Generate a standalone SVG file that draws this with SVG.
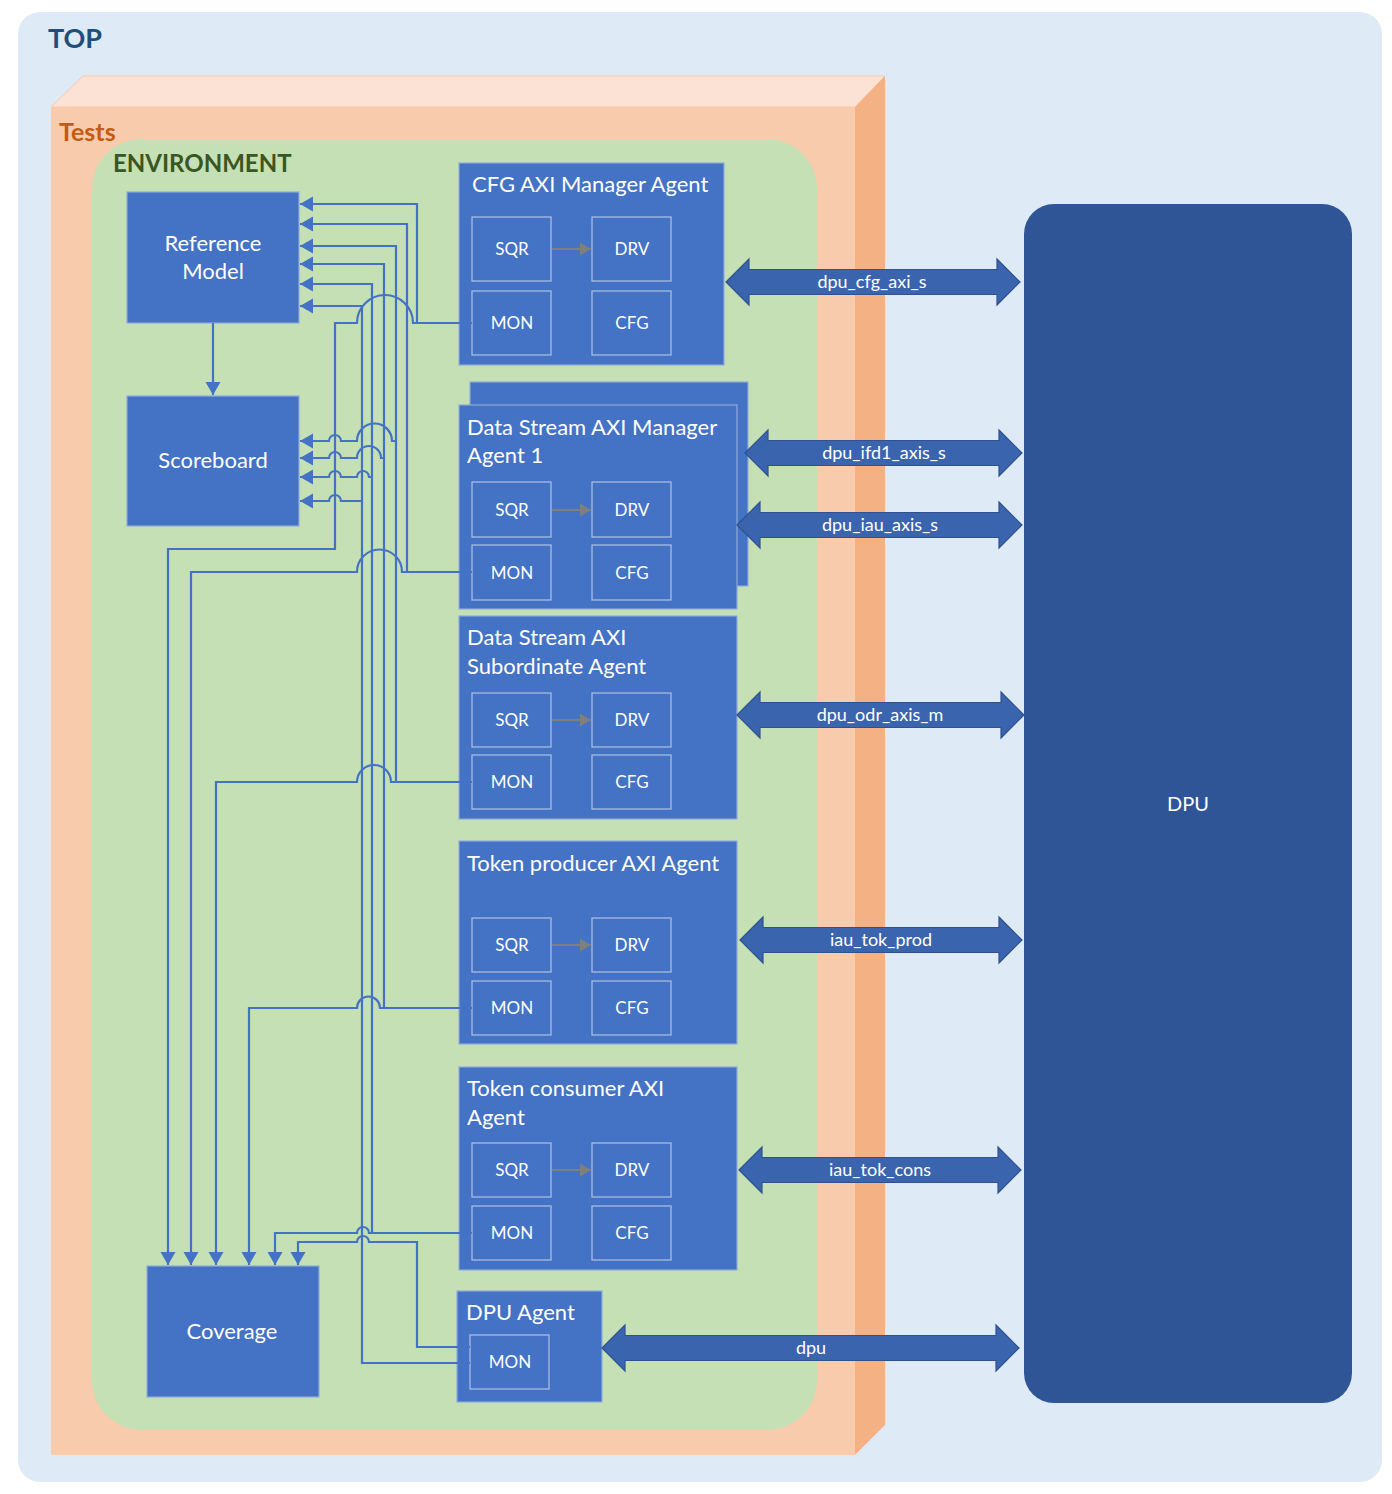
<svg xmlns="http://www.w3.org/2000/svg" width="1392" height="1494" viewBox="0 0 1392 1494">
  <defs>
    <style>
      .lbl { font-family: Lato, "Open Sans", "Liberation Sans", sans-serif; fill: #ffffff; }
      .node { fill: #4472C4; stroke: #8FAADC; stroke-width: 1.2; }
      .sub { fill: #4472C4; stroke: #A9BCE2; stroke-width: 1.3; }
      .subtxt { font-size: 17px; text-anchor: middle; }
      .title { font-size: 22px; }
      .big { font-size: 22px; text-anchor: middle; }
      .bus { fill: #3B64AE; stroke: #2F528F; stroke-width: 1.2; }
      .bustxt { font-size: 18px; text-anchor: middle; }
      .wire { fill: none; stroke: #4472C4; stroke-width: 2.2; }
      .arrowed { marker-end: url(#tip); }
      .inner { fill: none; stroke: #7F7F7F; stroke-width: 2; marker-end: url(#grayTip); }
      .head { font-family: Lato, "Open Sans", "Liberation Sans", sans-serif; font-weight: bold; }
    </style>
    <marker id="tip" markerUnits="userSpaceOnUse" markerWidth="14" markerHeight="16" refX="13" refY="7.5" orient="auto">
      <path d="M0,0 L13,7.5 L0,15 z" fill="#4472C4"/>
    </marker>
    <marker id="grayTip" markerUnits="userSpaceOnUse" markerWidth="12" markerHeight="14" refX="11" refY="6.5" orient="auto">
      <path d="M0,0 L11,6.5 L0,13 z" fill="#7F7F7F"/>
    </marker>
  </defs>

  <!-- outer TOP container -->
  <g id="top">
    <rect x="18" y="12" width="1364" height="1470" rx="22" fill="#DEEAF6"/>
    <text class="head" x="48" y="48" font-size="27" fill="#1F4E79">TOP</text>
  </g>

  <!-- Tests block drawn as a 3D slab -->
  <g id="tests">
    <polygon points="51,107 83,76 885,76 855,107" fill="#FBE2D4" stroke="#F8CBAD" stroke-width="1"/>
    <polygon points="855,107 885,76 885,1425 855,1455" fill="#F4B183"/>
    <rect x="51" y="107" width="804" height="1348" fill="#F8CBAD"/>
    <text class="head" x="59" y="141" font-size="25" fill="#C55A11">Tests</text>
  </g>

  <!-- environment area -->
  <g id="environment">
    <rect x="92" y="139" width="725" height="1291" rx="50" fill="#C5E0B4"/>
    <text class="head" x="113" y="172" font-size="24" fill="#385723">ENVIRONMENT</text>
  </g>

  <g id="reference_model">
    <rect class="node" x="127" y="192" width="172" height="131"/>
    <text class="lbl big" x="213" y="251">Reference</text>
    <text class="lbl big" x="213" y="279">Model</text>
  </g>

  <g id="scoreboard">
    <rect class="node" x="127" y="396" width="172" height="130"/>
    <text class="lbl big" x="213" y="468">Scoreboard</text>
  </g>

  <g id="coverage">
    <rect class="node" x="147" y="1266" width="172" height="131"/>
    <text class="lbl big" x="232" y="1339">Coverage</text>
  </g>

  <g id="dpu">
    <rect x="1024" y="204" width="328" height="1199" rx="30" fill="#2F5597"/>
    <text class="lbl" x="1188" y="811" font-size="20" text-anchor="middle">DPU</text>
  </g>

  <!-- CFG AXI manager agent -->
  <g id="cfg_axi_agent">
    <rect class="node" x="459" y="163" width="265" height="202"/>
    <text class="lbl title" x="472" y="192">CFG AXI Manager Agent</text>
    <rect class="sub" x="472" y="217" width="79" height="64"/>
    <rect class="sub" x="592" y="217" width="79" height="64"/>
    <rect class="sub" x="472" y="291" width="79" height="64"/>
    <rect class="sub" x="592" y="291" width="79" height="64"/>
    <text class="lbl subtxt" x="512" y="255">SQR</text>
    <text class="lbl subtxt" x="632" y="255">DRV</text>
    <text class="lbl subtxt" x="512" y="329">MON</text>
    <text class="lbl subtxt" x="632" y="329">CFG</text>
    <path class="inner" d="M552,249 H591"/>
  </g>

  <!-- data stream manager agent (stacked) -->
  <g id="ds_manager_agent">
    <rect class="node" x="470" y="382" width="278" height="204"/>
    <rect class="node" x="459" y="405" width="278" height="204"/>
    <text class="lbl title" x="467" y="435">Data Stream AXI Manager</text>
    <text class="lbl title" x="467" y="463">Agent 1</text>
    <rect class="sub" x="472" y="482" width="79" height="55"/>
    <rect class="sub" x="592" y="482" width="79" height="55"/>
    <rect class="sub" x="472" y="545" width="79" height="55"/>
    <rect class="sub" x="592" y="545" width="79" height="55"/>
    <text class="lbl subtxt" x="512" y="516">SQR</text>
    <text class="lbl subtxt" x="632" y="516">DRV</text>
    <text class="lbl subtxt" x="512" y="579">MON</text>
    <text class="lbl subtxt" x="632" y="579">CFG</text>
    <path class="inner" d="M552,510 H591"/>
  </g>

  <g id="ds_subordinate_agent">
    <rect class="node" x="459" y="616" width="278" height="203"/>
    <text class="lbl title" x="467" y="645">Data Stream AXI</text>
    <text class="lbl title" x="467" y="674">Subordinate Agent</text>
    <rect class="sub" x="472" y="693" width="79" height="54"/>
    <rect class="sub" x="592" y="693" width="79" height="54"/>
    <rect class="sub" x="472" y="755" width="79" height="54"/>
    <rect class="sub" x="592" y="755" width="79" height="54"/>
    <text class="lbl subtxt" x="512" y="726">SQR</text>
    <text class="lbl subtxt" x="632" y="726">DRV</text>
    <text class="lbl subtxt" x="512" y="788">MON</text>
    <text class="lbl subtxt" x="632" y="788">CFG</text>
    <path class="inner" d="M552,720 H591"/>
  </g>

  <g id="token_producer_agent">
    <rect class="node" x="459" y="841" width="278" height="203"/>
    <text class="lbl title" x="467" y="871">Token producer AXI Agent</text>
    <rect class="sub" x="472" y="918" width="79" height="54"/>
    <rect class="sub" x="592" y="918" width="79" height="54"/>
    <rect class="sub" x="472" y="981" width="79" height="54"/>
    <rect class="sub" x="592" y="981" width="79" height="54"/>
    <text class="lbl subtxt" x="512" y="951">SQR</text>
    <text class="lbl subtxt" x="632" y="951">DRV</text>
    <text class="lbl subtxt" x="512" y="1014">MON</text>
    <text class="lbl subtxt" x="632" y="1014">CFG</text>
    <path class="inner" d="M552,945 H591"/>
  </g>

  <g id="token_consumer_agent">
    <rect class="node" x="459" y="1067" width="278" height="203"/>
    <text class="lbl title" x="467" y="1096">Token consumer AXI</text>
    <text class="lbl title" x="467" y="1125">Agent</text>
    <rect class="sub" x="472" y="1143" width="79" height="54"/>
    <rect class="sub" x="592" y="1143" width="79" height="54"/>
    <rect class="sub" x="472" y="1206" width="79" height="54"/>
    <rect class="sub" x="592" y="1206" width="79" height="54"/>
    <text class="lbl subtxt" x="512" y="1176">SQR</text>
    <text class="lbl subtxt" x="632" y="1176">DRV</text>
    <text class="lbl subtxt" x="512" y="1239">MON</text>
    <text class="lbl subtxt" x="632" y="1239">CFG</text>
    <path class="inner" d="M552,1170 H591"/>
  </g>

  <g id="dpu_agent">
    <rect class="node" x="457" y="1291" width="145" height="111"/>
    <text class="lbl title" x="466" y="1320">DPU Agent</text>
    <rect class="sub" x="470" y="1335" width="79" height="54"/>
    <text class="lbl subtxt" x="510" y="1368">MON</text>
  </g>

  <!-- monitor connections with line jumps -->
  <g id="connectors">
    <!-- ref model to scoreboard -->
    <path class="wire arrowed" d="M213,323 V395"/>

    <!-- CFG agent monitor -->
    <path class="wire arrowed" d="M472,323 H417 V204 H300"/>
    <path class="wire arrowed" d="M417,323 H413 A28,28 0 0 0 357,323 H335 V549 H168 V1265"/>

    <!-- data stream manager monitor -->
    <path class="wire arrowed" d="M472,572 H407 V224 H300"/>
    <path class="wire arrowed" d="M407,572 H402 A22.5,22.5 0 0 0 357,572 H191 V1265"/>

    <!-- data stream subordinate monitor -->
    <path class="wire arrowed" d="M472,782 H396 V246 H300"/>
    <path class="wire arrowed" d="M396,441 H392 A17.5,17.5 0 0 0 357,441 H341 A6,6 0 0 0 329,441 H300"/>
    <path class="wire arrowed" d="M396,782 H391 A17,17 0 0 0 357,782 H216 V1265"/>

    <!-- token producer monitor -->
    <path class="wire arrowed" d="M472,1008 H384 V264 H300"/>
    <path class="wire arrowed" d="M384,458 H381 A12,12 0 0 0 357,458 H341 A6,6 0 0 0 329,458 H300"/>
    <path class="wire arrowed" d="M384,1008 H380 A11.5,11.5 0 0 0 357,1008 H249 V1265"/>

    <!-- token consumer monitor -->
    <path class="wire arrowed" d="M472,1233 H372 V284 H300"/>
    <path class="wire arrowed" d="M372,477 H369 A6,6 0 0 0 357,477 H341 A6,6 0 0 0 329,477 H300"/>
    <path class="wire arrowed" d="M372,1233 H369 A6,6 0 0 0 357,1233 H275 V1265"/>

    <!-- DPU agent monitor -->
    <path class="wire arrowed" d="M470,1363 H362 V306 H300"/>
    <path class="wire arrowed" d="M362,501 H341 A6,6 0 0 0 329,501 H300"/>
    <path class="wire arrowed" d="M470,1347 H417 V1242 H369 A6,6 0 0 0 357,1242 H298 V1265"/>
  </g>

  <!-- interface buses to the DPU -->
  <g id="buses">
    <path class="bus" d="M726,282 L749,259 V269.5 H997 V259 L1020,282 L997,305 V294.5 H749 V305 Z"/>
    <text class="lbl bustxt" x="872" y="288">dpu_cfg_axi_s</text>

    <path class="bus" d="M745,453 L768,430 V440.5 H999 V430 L1022,453 L999,476 V465.5 H768 V476 Z"/>
    <text class="lbl bustxt" x="884" y="459">dpu_ifd1_axis_s</text>

    <path class="bus" d="M737,525 L760,502 V512.5 H999 V502 L1022,525 L999,548 V537.5 H760 V548 Z"/>
    <text class="lbl bustxt" x="880" y="531">dpu_iau_axis_s</text>

    <path class="bus" d="M737,715 L760,692 V702.5 H1001 V692 L1024,715 L1001,738 V727.5 H760 V738 Z"/>
    <text class="lbl bustxt" x="880" y="721">dpu_odr_axis_m</text>

    <path class="bus" d="M740,940 L763,917 V927.5 H999 V917 L1022,940 L999,963 V952.5 H763 V963 Z"/>
    <text class="lbl bustxt" x="881" y="946">iau_tok_prod</text>

    <path class="bus" d="M739,1170 L762,1147 V1157.5 H998 V1147 L1021,1170 L998,1193 V1182.5 H762 V1193 Z"/>
    <text class="lbl bustxt" x="880" y="1176">iau_tok_cons</text>

    <path class="bus" d="M602,1348 L625,1325 V1335.5 H996 V1325 L1019,1348 L996,1371 V1360.5 H625 V1371 Z"/>
    <text class="lbl bustxt" x="811" y="1354">dpu</text>
  </g>
</svg>
